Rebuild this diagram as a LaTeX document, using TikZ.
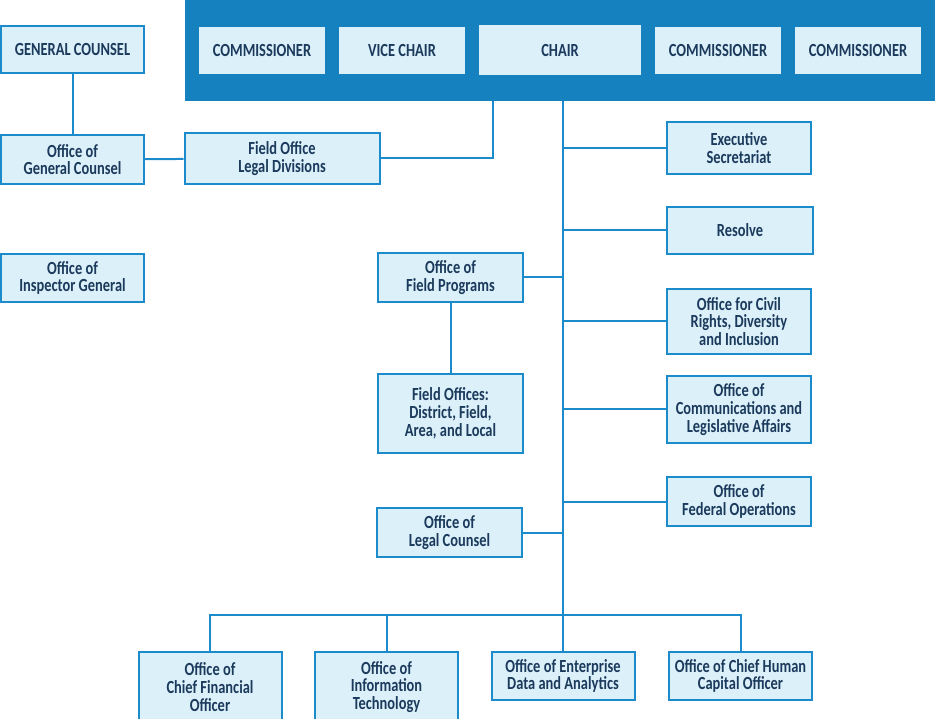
\documentclass[tikz,border=0pt]{standalone}
\usepackage{fontspec}
\setmainfont{Carlito}[FakeStretch=0.78]
\usepackage{xcolor}
\usetikzlibrary{chains, positioning}

\definecolor{boardblue}{HTML}{1581BF}
\definecolor{edgeblue}{HTML}{1C8BCB}
\definecolor{boxfill}{HTML}{DCF0FA}
\definecolor{inkblue}{HTML}{1B3A5C}

\newcommand\officefont{%
  \bfseries\fontsize{18.5}{17.8}\selectfont\setlength{\lineskiplimit}{-20pt}}

\begin{document}
\begin{tikzpicture}[
    x=1pt, y=-1pt,
    node distance = 12pt,
    office/.style = {
        draw=edgeblue, fill=boxfill, line width=2pt, rectangle,
        minimum width=143pt, minimum height=48pt, inner sep=2pt,
        align=center, text=inkblue, font=\officefont
    },
    seat/.style = {
        office, draw=none, minimum width=126pt, minimum height=47pt, on chain
    },
    link/.style = {draw=edgeblue, line width=2pt}
  ]
    \useasboundingbox (0,0) rectangle (935,719);

    % board of commissioners
    \node[fill=boardblue, minimum width=750pt, minimum height=101pt, inner sep=0pt]
        (board) at (560,50.5) {};
    \begin{scope}[start chain = going right]
        \node[seat] (comA) at (262,50.5) {COMMISSIONER};
        \node[seat] (vice) {VICE CHAIR};
        \node[seat, minimum width=162pt, minimum height=50pt] (chair) {CHAIR};
        \node[seat] (comB) {COMMISSIONER};
        \node[seat] (comC) {COMMISSIONER};
    \end{scope}

    % left column
    \node[office, minimum height=47pt] (gc) at (72.5,49.5) {GENERAL COUNSEL};
    \node[office, minimum height=49pt] (ogc) at (72.5,159.5) {Office of\\General Counsel};
    \node[office, minimum width=195pt, minimum height=51pt] (fold) at (282,158.5) {Field Office\\Legal Divisions};
    \node[office] (oig) at (72.5,278) {Office of\\Inspector General};

    % right of trunk
    \node[office, minimum width=144pt, minimum height=52pt] (exec) at (739,148) {Executive\\Secretariat};
    \node[office, minimum width=146pt, minimum height=47pt] (resolve) at (740,230.5) {Resolve};
    \node[office, minimum width=144pt, minimum height=65pt] (civil) at (739,321.5) {Office for Civil\\Rights, Diversity\\and Inclusion};
    \node[office, minimum width=144pt, minimum height=67pt] (comm) at (739,409.5) {Office of\\Communications and\\Legislative Affairs};
    \node[office, minimum width=144pt, minimum height=49pt] (fed) at (739,501.5) {Office of\\Federal Operations};

    % left of trunk
    \node[office, minimum width=145pt, minimum height=49pt] (ofp) at (450.5,277.5) {Office of\\Field Programs};
    \node[office, minimum width=145pt, minimum height=79pt] (fo) at (450.5,413.5) {Field Offices:\\District, Field,\\Area, and Local};
    \node[office, minimum width=145pt, minimum height=49pt] (olc) at (449.5,532.5) {Office of\\Legal Counsel};

    % bottom row
    \node[office, minimum height=70pt, anchor=north] (cfo) at (210,651) {Office of\\Chief Financial\\Officer};
    \node[office, minimum height=70pt, anchor=north] (oit) at (386.5,651) {Office of\\Information\\Technology};
    \node[office, anchor=north] (oeda) at (563,651) {Office of Enterprise\\Data and Analytics};
    \node[office, anchor=north] (chco) at (740.5,651) {Office of Chief Human\\Capital Officer};

    \coordinate (legaltap) at (493,101);
    \coordinate (trunktop) at (563,101);
    \coordinate (bus) at (563,615);

    % connectors
    \draw[link] (gc) -- (ogc);
    \draw[link] (ogc) -- (fold);
    \draw[link] (fold.east) -| (legaltap);
    \draw[link] (trunktop) -- (bus);
    \foreach \unit in {exec, resolve, civil, comm, fed}
        \draw[link] (\unit.west) -- (\unit.west -| bus);
    \foreach \unit in {ofp, olc}
        \draw[link] (\unit.east) -- (\unit.east -| bus);
    \draw[link] (ofp) -- (fo);
    \draw[link] (cfo.north) |- (bus) -| (chco.north);
    \draw[link] (oit.north) -- (oit.north |- bus);
    \draw[link] (bus) -- (oeda.north);
\end{tikzpicture}
\end{document}
